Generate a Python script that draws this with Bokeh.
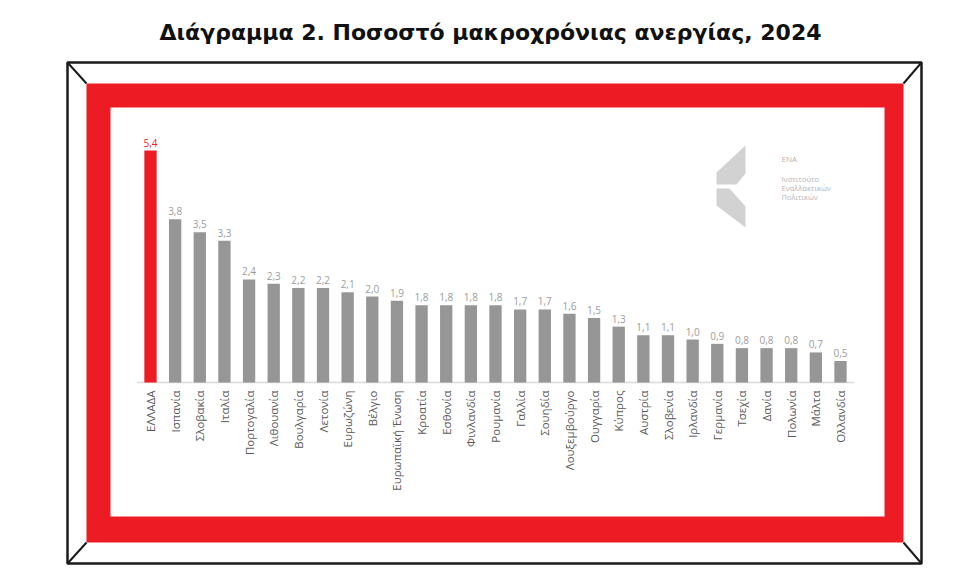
import math
from bokeh.plotting import figure
from bokeh.models import Range1d, ColumnDataSource
from bokeh.core.properties import value
from bokeh.embed import file_html
from bokeh.resources import INLINE

# Long-term unemployment rate, 2024 (% of labour force)
countries = ["ΕΛΛΑΔΑ", "Ισπανία", "Σλοβακία", "Ιταλία", "Πορτογαλία", "Λιθουανία",
             "Βουλγαρία", "Λετονία", "Ευρωζώνη", "Βέλγιο", "Ευρωπαϊκή Ένωση", "Κροατία",
             "Εσθονία", "Φινλανδία", "Ρουμανία", "Γαλλία", "Σουηδία", "Λουξεμβούργο",
             "Ουγγαρία", "Κύπρος", "Αυστρία", "Σλοβενία", "Ιρλανδία", "Γερμανία",
             "Τσεχία", "Δανία", "Πολωνία", "Μάλτα", "Ολλανδία"]
rates = [5.4, 3.8, 3.5, 3.3, 2.4, 2.3, 2.2, 2.2, 2.1, 2.0, 1.9, 1.8, 1.8, 1.8, 1.8,
         1.7, 1.7, 1.6, 1.5, 1.3, 1.1, 1.1, 1.0, 0.9, 0.8, 0.8, 0.8, 0.7, 0.5]
highlight = "ΕΛΛΑΔΑ"
title_text = "Διάγραμμα 2. Ποσοστό μακροχρόνιας ανεργίας, 2024"

W, H = 980, 586
RED = "#ED1C24"
GREY_BAR = "#969696"
GREY_VAL = "#9c9c9c"
GREY_CAT = "#5a5a5a"

# Page coordinates (pixels, y down) for the frame decoration
p = figure(width=W, height=H, output_backend="svg", toolbar_location=None,
           x_range=Range1d(0, W), y_range=Range1d(H, 0),
           x_axis_type=None, y_axis_type=None, min_border=0)
p.grid.visible = False
p.outline_line_color = None
p.background_fill_color = "white"
p.border_fill_color = "white"

# Data ranges: bar index -> horizontal pixel, rate -> vertical pixel
first_x, last_x = 150.0, 840.0
step = (last_x - first_x) / (len(countries) - 1)
base_y, top_y = 382.0, 150.0           # pixel rows of 0 and of the largest value
ppu = (base_y - top_y) / max(rates)
p.extra_x_ranges = {"idx": Range1d(-first_x / step, (W - first_x) / step)}
p.extra_y_ranges = {"val": Range1d(-(H - base_y) / ppu, base_y / ppu)}

# Outer black frame with corner bevels and the red band
ob = dict(l=67, r=921, t=62, b=563)
rb = dict(l=86, r=903, t=83, b=542)
wb = dict(l=110, r=884, t=107, b=516)
p.quad(left=[rb["l"]], right=[rb["r"]], top=[rb["t"]], bottom=[rb["b"]],
       fill_color=RED, line_color=None)
p.quad(left=[wb["l"]], right=[wb["r"]], top=[wb["t"]], bottom=[wb["b"]],
       fill_color="white", line_color=None)
p.quad(left=[ob["l"]], right=[ob["r"]], top=[ob["t"]], bottom=[ob["b"]],
       fill_color=None, line_color="#1a1a1a", line_width=2.5)
p.segment(x0=[ob["l"], ob["r"], ob["l"], ob["r"]],
          y0=[ob["t"], ob["t"], ob["b"], ob["b"]],
          x1=[rb["l"], rb["r"], rb["l"], rb["r"]],
          y1=[rb["t"], rb["t"], rb["b"], rb["b"]],
          line_color="#1a1a1a", line_width=2)

# Title
p.text(x=[W / 2], y=[32], text=[title_text], text_font=value("DejaVu Sans"),
       text_font_style="bold", text_font_size="22px", text_color="#111111",
       text_align="center", text_baseline="middle")

# Bars
idx = list(range(len(countries)))
colors = [RED if c == highlight else GREY_BAR for c in countries]
val_colors = [RED if c == highlight else GREY_VAL for c in countries]
labels = [f"{v:.1f}".replace(".", ",") for v in rates]
src = ColumnDataSource(dict(x=idx, top=rates, color=colors, vcolor=val_colors,
                            label=labels, name=countries))

p.segment(x0=[-0.55], x1=[len(countries) - 0.45], y0=[0], y1=[0],
          x_range_name="idx", y_range_name="val", line_color="#d9d9d9", line_width=1.5)
p.vbar(x="x", top="top", bottom=0, width=0.5, fill_color="color", line_color=None,
       source=src, x_range_name="idx", y_range_name="val")

# Value labels above bars
p.text(x="x", y="top", text="label", source=src, x_range_name="idx", y_range_name="val",
       text_font=value("Open Sans"), text_font_size="10px", text_color="vcolor",
       text_align="center", text_baseline="bottom", y_offset=-4)

# Country names, rotated
p.text(x="x", y=0, text="name", source=src, x_range_name="idx", y_range_name="val",
       text_font=value("Open Sans"), text_font_size="11.5px", text_color=GREY_CAT,
       text_align="right", text_baseline="middle", angle=math.pi / 2, y_offset=8)

# Institute mark
LOGO = "#d2d2d2"
p.patch(x=[745, 745, 736, 716, 716], y=[145, 173, 184, 184, 172],
        fill_color=LOGO, line_color=None)
p.patch(x=[716, 729, 745, 745, 716], y=[188, 188, 206, 227, 205],
        fill_color=LOGO, line_color=None)
p.text(x=[781], y=[158], text=["ΕΝΑ"], text_font=value("Open Sans"), text_font_size="8px",
       text_color="#b5b5b5", text_baseline="middle")
p.text(x=[781, 781, 781], y=[178, 187, 196], text=["Ινστιτούτο", "Εναλλακτικών", "Πολιτικών"],
       text_font=value("Open Sans"), text_font_size="7.5px", text_color="#b5b5b5",
       text_baseline="middle")

open("out.html", "w").write(file_html(p, INLINE))
